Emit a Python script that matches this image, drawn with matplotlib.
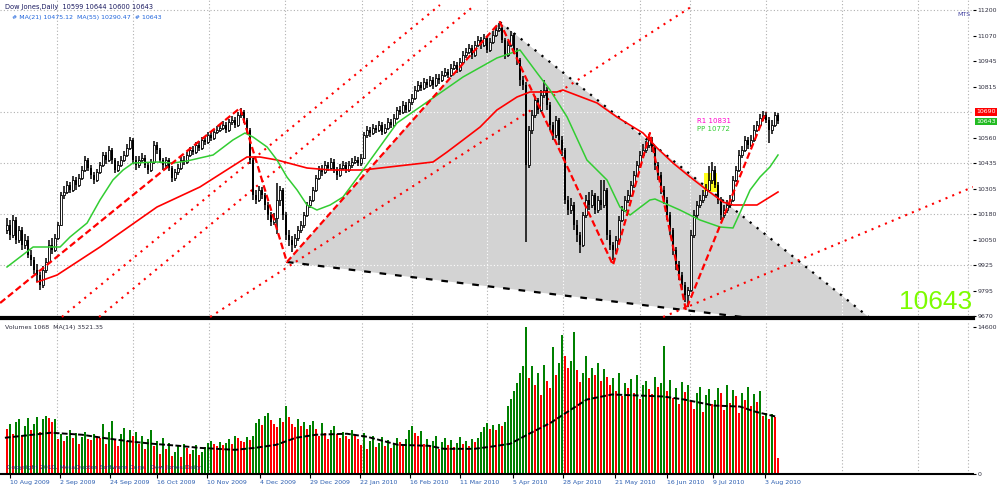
import matplotlib
matplotlib.use("Agg")
import matplotlib.pyplot as plt
import matplotlib.transforms as mtransforms
from matplotlib.patches import Polygon
import numpy as np

# daily bars (Dow Jones)
first_open = 10100
close = [10125, 10075, 10150, 10050, 10100, 10025, 10050, 9975, 9950, 9900,
         9875, 9825, 9900, 9940, 10025, 10000, 10060, 10125, 10275, 10290,
         10325, 10300, 10350, 10325, 10360, 10400, 10450, 10410, 10375, 10350,
         10390, 10425, 10475, 10450, 10500, 10450, 10400, 10425, 10450, 10475,
         10510, 10550, 10450, 10425, 10450, 10460, 10425, 10400, 10440, 10525,
         10500, 10450, 10425, 10450, 10410, 10360, 10390, 10410, 10450, 10440,
         10475, 10500, 10490, 10525, 10510, 10550, 10540, 10575, 10560, 10590,
         10600, 10610, 10625, 10600, 10640, 10650, 10625, 10675, 10690, 10650,
         10600, 10450, 10275, 10250, 10300, 10275, 10225, 10175, 10140, 10160,
         10250, 10300, 10175, 10075, 10050, 10025, 10060, 10100, 10125, 10175,
         10225, 10250, 10300, 10360, 10400, 10390, 10425, 10410, 10440, 10400,
         10375, 10410, 10425, 10400, 10425, 10440, 10450, 10435, 10460, 10575,
         10600, 10585, 10610, 10600, 10625, 10590, 10610, 10640, 10625, 10660,
         10700, 10690, 10725, 10700, 10740, 10760, 10800, 10825, 10810, 10840,
         10825, 10850, 10825, 10860, 10850, 10875, 10890, 10875, 10910, 10925,
         10900, 10940, 10975, 10990, 11010, 10975, 11025, 11050, 11025, 11060,
         11000, 11040, 11075, 11100, 11110, 11050, 10975, 11025, 11075, 11000,
         10950, 10850, 10825, 10425, 10600, 10675, 10750, 10700, 10775, 10800,
         10725, 10625, 10575, 10650, 10550, 10500, 10250, 10200, 10225, 10125,
         10075, 10025, 10175, 10250, 10225, 10275, 10200, 10250, 10225, 10300,
         10075, 10025, 10000, 10050, 10150, 10200, 10250, 10275, 10325, 10375,
         10425, 10475, 10500, 10525, 10550, 10510, 10425, 10375, 10300, 10250,
         10175, 10100, 10000, 9925, 9875, 9825, 9775, 9800, 10075, 10175,
         10225, 10250, 10275, 10300, 10350, 10400, 10325, 10250, 10175, 10200,
         10225, 10250, 10350, 10400, 10475, 10500, 10550, 10525, 10550, 10600,
         10625, 10660, 10675, 10650, 10600, 10625, 10675, 10643]
high = [10160, 10150, 10175, 10165, 10120, 10115, 10080, 10070, 10000, 9965,
        9930, 9890, 9920, 9960, 10050, 10060, 10080, 10140, 10290, 10320,
        10345, 10340, 10370, 10365, 10380, 10420, 10470, 10460, 10425, 10390,
        10405, 10440, 10490, 10490, 10520, 10510, 10460, 10445, 10470, 10495,
        10530, 10565, 10560, 10470, 10470, 10485, 10475, 10440, 10455, 10545,
        10540, 10510, 10460, 10465, 10460, 10420, 10405, 10430, 10465, 10470,
        10490, 10515, 10520, 10540, 10545, 10565, 10570, 10590, 10595, 10605,
        10620, 10630, 10645, 10640, 10655, 10670, 10665, 10690, 10710, 10700,
        10660, 10610, 10460, 10300, 10320, 10315, 10285, 10240, 10190, 10185,
        10335, 10320, 10310, 10190, 10100, 10070, 10080, 10120, 10145, 10190,
        10240, 10270, 10315, 10375, 10420, 10425, 10445, 10440, 10460, 10455,
        10415, 10430, 10445, 10440, 10445, 10460, 10470, 10465, 10480, 10590,
        10620, 10615, 10630, 10625, 10645, 10640, 10630, 10660, 10655, 10680,
        10715, 10720, 10745, 10740, 10755, 10780, 10820, 10845, 10840, 10860,
        10855, 10870, 10865, 10880, 10880, 10895, 10910, 10905, 10930, 10945,
        10940, 10960, 10995, 11010, 11030, 11025, 11045, 11070, 11065, 11080,
        11070, 11060, 11095, 11120, 11135, 11125, 11060, 11045, 11095, 11085,
        11010, 10960, 10870, 10840, 10620, 10700, 10770, 10760, 10800, 10850,
        10815, 10740, 10640, 10670, 10660, 10570, 10510, 10270, 10260, 10240,
        10150, 10090, 10190, 10275, 10290, 10300, 10285, 10270, 10350, 10350,
        10310, 10100, 10040, 10070, 10170, 10220, 10270, 10300, 10345, 10395,
        10445, 10495, 10530, 10545, 10580, 10565, 10520, 10440, 10390, 10320,
        10265, 10190, 10110, 10015, 9945, 9890, 9840, 9815, 10100, 10200,
        10245, 10275, 10300, 10330, 10420, 10440, 10420, 10340, 10265, 10225,
        10250, 10275, 10370, 10420, 10500, 10520, 10570, 10565, 10575, 10625,
        10645, 10680, 10695, 10690, 10665, 10650, 10690, 10685]
low = [10080, 10050, 10060, 10030, 10035, 10000, 10005, 9960, 9920, 9880,
       9840, 9800, 9810, 9885, 9930, 9980, 9990, 10050, 10120, 10255,
       10280, 10285, 10290, 10300, 10315, 10350, 10390, 10395, 10355, 10330,
       10340, 10380, 10415, 10430, 10440, 10430, 10385, 10390, 10415, 10440,
       10465, 10500, 10430, 10400, 10410, 10435, 10410, 10380, 10390, 10430,
       10480, 10435, 10400, 10410, 10395, 10340, 10345, 10375, 10400, 10425,
       10430, 10465, 10475, 10480, 10495, 10500, 10525, 10530, 10545, 10550,
       10580, 10590, 10600, 10585, 10590, 10625, 10610, 10615, 10660, 10635,
       10580, 10430, 10250, 10230, 10240, 10255, 10200, 10150, 10120, 10125,
       10080, 10220, 10150, 10050, 10020, 9990, 10010, 10045, 10085, 10110,
       10165, 10210, 10240, 10290, 10350, 10370, 10380, 10395, 10400, 10385,
       10350, 10365, 10400, 10385, 10390, 10410, 10430, 10420, 10420, 10455,
       10560, 10565, 10575, 10585, 10590, 10575, 10580, 10600, 10610, 10615,
       10650, 10675, 10680, 10685, 10690, 10725, 10750, 10790, 10795, 10800,
       10810, 10815, 10805, 10815, 10830, 10840, 10865, 10860, 10865, 10900,
       10885, 10890, 10930, 10960, 10980, 10955, 10965, 11015, 11005, 11015,
       10985, 10990, 11030, 11065, 11090, 11035, 10955, 10965, 11015, 10980,
       10925, 10820, 10800, 10040, 10410, 10580, 10660, 10680, 10690, 10760,
       10700, 10600, 10550, 10560, 10525, 10470, 10230, 10175, 10180, 10100,
       10040, 9985, 10015, 10160, 10200, 10210, 10180, 10185, 10200, 10210,
       10050, 10000, 9950, 9980, 10040, 10140, 10190, 10235, 10265, 10310,
       10365, 10410, 10460, 10485, 10510, 10490, 10400, 10350, 10280, 10230,
       10150, 10075, 9975, 9900, 9850, 9800, 9740, 9715, 9790, 10060,
       10160, 10210, 10235, 10260, 10290, 10330, 10310, 10230, 10150, 10160,
       10185, 10210, 10240, 10340, 10390, 10460, 10490, 10505, 10515, 10540,
       10590, 10615, 10645, 10635, 10535, 10580, 10615, 10630]
volume = [45, 50, 40, 52, 55, 38, 48, 56, 44, 50, 57, 42, 55, 58, 56, 52,
          55, 35, 40, 33, 38, 44, 36, 41, 30, 37, 42, 35, 34, 40, 38, 36,
          50, 30, 42, 53, 35, 28, 40, 46, 33, 44, 38,
          42, 30, 38, 25, 35, 44, 28, 33, 20, 36,
          25, 31, 18, 22, 28, 17, 30, 26, 20, 24, 29, 19, 22, 27,
          31, 33, 30, 28, 32, 29,
          31, 35, 30, 38, 36, 33, 32, 37, 34, 38,
          51, 55, 49, 58, 61, 54, 50, 47, 56, 52, 68,
          57, 50, 47, 55, 48, 52, 45, 49, 53,
          45, 38, 51, 41, 35, 44, 48, 40, 36, 42, 38, 35, 44, 39,
          35, 29, 41, 25, 33, 38, 27, 31, 37, 28, 34, 26, 30, 36, 32, 29, 35,
          44, 48, 41, 38, 43,
          30, 35, 28, 33, 38, 25, 32, 36, 29, 34, 27, 31, 37, 30, 33, 28, 35, 32, 36,
          42, 47, 51, 45, 49, 44, 50, 48, 52,
          68, 75, 82, 90, 100, 107,
          146,
          95, 107, 88, 100, 78, 108, 92, 85, 126, 98, 110,
          138, 117, 105, 112, 141, 103,
          91, 100, 117, 95, 105, 98, 110, 92, 104, 96,
          88, 95, 82, 100, 77, 90, 85, 94, 80, 98, 75, 88, 92, 84, 79, 96, 86, 90, 127, 82, 93,
          76, 85, 70, 91, 81, 88, 73, 65, 80, 86, 62, 78, 84, 70, 74,
          85, 80, 64, 88, 71, 83, 77, 61, 80, 74, 86, 68, 79, 72, 82,
          58, 61, 55, 60, 57,
          16]

# indicator lines (bar index, price)
ma_fast_bar = [0, 8.7, 12, 17.7, 21, 26.7, 31, 35.3, 38.7, 42, 50, 55.3, 60, 64.3, 68.7,
               75.3, 79.3, 82, 86.7, 90, 93.3, 96.7, 100, 103.3, 107.7, 112, 118.7, 130,
               141, 152, 163.3, 171, 176.7, 181, 186.7, 193.3, 200, 204.3, 207.7, 214.3,
               216, 224.3, 231, 237.7, 242, 244.3, 247.7, 251, 254.3, 257]
ma_fast_val = [9915, 10015, 10015, 10015, 10065, 10135, 10250, 10350, 10400, 10435, 10440,
               10435, 10445, 10460, 10475, 10550, 10585, 10565, 10515, 10450, 10365, 10300,
               10225, 10200, 10225, 10265, 10400, 10635, 10750, 10865, 10960, 11000, 10885,
               10800, 10665, 10450, 10350, 10215, 10175, 10250, 10255, 10200, 10150, 10115,
               10110, 10185, 10300, 10365, 10415, 10475]
ma_slow_bar = [10, 12, 16.7, 31, 50, 64.3, 80, 84.3, 90, 100, 107.7, 118.7, 142, 146.7, 152,
               157.7, 163.3, 170, 174.3, 183.3, 185.3, 196.7, 203.3, 212, 216.7, 222, 227.7,
               233.3, 238.7, 242, 250, 257]
ma_slow_val = [9840, 9850, 9875, 10015, 10215, 10315, 10465, 10465, 10450, 10410, 10400,
               10400, 10440, 10490, 10550, 10615, 10700, 10765, 10790, 10790, 10800, 10735,
               10665, 10585, 10510, 10435, 10365, 10300, 10240, 10225, 10225, 10290]
zigzag_bar = [-2.3, 77.7, 93.3, 164.3, 202, 214.3, 226.3, 253]
zigzag_val = [9735, 10710, 9940, 11140, 9925, 10585, 9700, 10690]
triangle_bar = [93.3, 164.3, 294.7]
triangle_val = [9940, 11140, 9575]
trend_lines = [((18.3, 9665), (144.3, 11225)),
               ((30.7, 9665), (156.0, 11225)),
               ((67.7, 9665), (229.0, 11225)),
               ((218.7, 9665), (322.0, 10315))]
vol_ma_bar = [-0.7, 14.7, 25, 31.7, 42, 48.7, 57.3, 64, 76, 82.7, 89.7, 96.3, 103, 113.3,
              120, 130.3, 140.7, 145.7, 155.7, 161, 167.7, 174.7, 181.3, 188, 193.3, 201.7,
              210.3, 218.7, 225.7, 235.7, 244.3, 249.3, 256.3]
vol_ma_val = [36, 41, 39, 36, 32, 30, 28, 26, 24, 26, 29, 36, 39, 40, 37, 29, 28, 25, 25,
              27, 30, 41, 51, 64, 74, 79, 78, 77, 74, 68, 67, 62, 57]

price_ticks = [11200, 11070, 10945, 10815, 10560, 10435, 10305, 10180, 10050, 9925, 9795, 9670]
grid_prices = [11200, 10690, 10435, 10180, 9925]
grid_bars = [16.7, 42, 67.3, 92.7, 118.3, 135, 160, 185.3, 211, 227.7, 253, 278.3, 303.7, 320.3]
date_bars = [1, 17.7, 34.3, 50, 66.7, 84.3, 101, 117.7, 134.3, 151, 168.7, 185.3, 202.7, 220, 235.3, 252.7]
date_labels = ["10 Aug 2009", "2 Sep 2009", "24 Sep 2009", "16 Oct 2009", "10 Nov 2009",
               "4 Dec 2009", "29 Dec 2009", "22 Jan 2010", "16 Feb 2010", "11 Mar 2010",
               "5 Apr 2010", "28 Apr 2010", "21 May 2010", "16 Jun 2010", "9 Jul 2010", "3 Aug 2010"]

W, H = 997, 486
fig = plt.figure(figsize=(W / 100, H / 100), dpi=100)
fig.patch.set_facecolor("white")
ax = fig.add_axes([0, 1 - 318 / H, 973 / W, 318 / H])
axv = fig.add_axes([0, 12 / H, 973 / W, 153 / H])

xlim = (-7 / 3, 322)
ax.set_xlim(*xlim)
ax.set_ylim(9660, 11250)
axv.set_xlim(*xlim)
axv.set_ylim(0, 152)

x = np.arange(len(close))
c = np.array(close, dtype=float)
o = np.array([first_open] + close[:-1], dtype=float)
up = c >= o

# grey triangle
tri = Polygon(list(zip(triangle_bar, triangle_val)), closed=True, fc="#d3d3d3", ec="none", zorder=1)
ax.add_patch(tri)
ax.plot([triangle_bar[1], triangle_bar[2]], [triangle_val[1], triangle_val[2]],
        color="black", ls=(0, (1, 3)), lw=1.6, zorder=2)
ax.plot([triangle_bar[0], triangle_bar[2]], [triangle_val[0], triangle_val[2]],
        color="black", ls=(0, (3, 4)), lw=1.6, zorder=2)

# grid: grey on white, white on the grey triangle
for g in grid_bars:
    for a in (ax, axv):
        a.axvline(g, color="#b0b0b0", ls=(0, (1, 2)), lw=0.8, zorder=0.5)
    ln = ax.axvline(g, color="white", ls=(0, (1, 2)), lw=0.8, zorder=1.5)
    ln.set_clip_path(tri)
for p in grid_prices:
    ax.axhline(p, color="#b0b0b0", ls=(0, (1, 2)), lw=0.8, zorder=0.5)
    ln = ax.axhline(p, color="white", ls=(0, (1, 2)), lw=0.8, zorder=1.5)
    ln.set_clip_path(tri)

# trend lines
for (x0, y0), (x1, y1) in trend_lines:
    ax.plot([x0, x1], [y0, y1], color="red", ls=(0, (1, 2.5)), lw=1.5, zorder=3)

# candles
ax.vlines(x, low, high, color="black", lw=1.1, zorder=5)
ax.bar(x[~up], (o - c)[~up], bottom=c[~up], width=0.8, color="black", lw=0, zorder=6)
ax.bar(x[up], (c - o)[up], bottom=o[up], width=0.8, color="white", edgecolor="black", lw=0.6, zorder=6)

# highlight
ax.fill_between([232.3, 236.7], 10290, 10385, color="#ffff00", alpha=0.9, zorder=4, lw=0)

# indicators
ax.plot(ma_slow_bar, ma_slow_val, color="red", lw=1.2, zorder=7)
ax.plot(ma_fast_bar, ma_fast_val, color="#32cd32", lw=1.1, zorder=7)
ax.plot(zigzag_bar, zigzag_val, color="red", lw=1.6, ls=(0, (3, 1.5)), zorder=8)

for s in ["top", "left", "right"]:
    ax.spines[s].set_visible(False)
ax.spines["bottom"].set_linewidth(3)
ax.spines["bottom"].set_color("black")
ax.set_xticks([])
ax.yaxis.tick_right()
ax.set_yticks(price_ticks)
ax.set_yticklabels([str(t) for t in price_ticks])
ax.tick_params(axis="y", length=2, width=0.8, labelsize=4.5, pad=1, labelcolor="#303040")

blend = mtransforms.blended_transform_factory(ax.transAxes, ax.transData)
ax.text(1.003, 10690, "10690", transform=blend, fontsize=4.5, color="white", va="center",
        ha="left", bbox=dict(fc="red", ec="none", pad=0.8))
ax.text(1.003, 10643, "10643", transform=blend, fontsize=4.5, color="white", va="center",
        ha="left", bbox=dict(fc="#22bb22", ec="none", pad=0.8))

# volumes
v = np.array(volume, dtype=float)
prev = np.concatenate([[v[0]], v[:-1]])
vcol = np.where(v > prev, "#008000", "#ff0000")
axv.bar(x, v, width=0.75, color=vcol, lw=0, zorder=2)
axv.plot(vol_ma_bar, vol_ma_val, color="black", lw=1.4, ls=(0, (3, 1.2)), zorder=3)
for s in ["top", "left", "right"]:
    axv.spines[s].set_visible(False)
axv.spines["bottom"].set_linewidth(1.5)
axv.yaxis.tick_right()
axv.set_yticks([0, 146])
axv.set_yticklabels(["0", "14600"])
axv.tick_params(axis="y", length=2, labelsize=4.5, pad=1, labelcolor="#303040")
axv.set_xticks(date_bars)
axv.set_xticklabels(date_labels)
axv.tick_params(axis="x", length=3, labelsize=4.5, pad=1, labelcolor="#2a5db0")
for lbl in axv.get_xticklabels():
    lbl.set_ha("left")

# texts
fig.text(5 / W, 1 - 7 / H, "Dow Jones,Daily  10599 10644 10600 10643", fontsize=4.8,
         color="#1a1a60", va="center")
fig.text(12 / W, 1 - 17 / H, "# MA(21) 10475.12  MA(55) 10290.47  # 10643", fontsize=4.5,
         color="#1e64dc", va="center")
fig.text(957 / W, 1 - 14 / H, "MTS", fontsize=4.5, color="#4040a0", va="center")
fig.text(697 / W, 1 - 121 / H, "R1 10831", fontsize=5, color="#ff00cc", va="center")
fig.text(697 / W, 1 - 129 / H, "PP 10772", fontsize=5, color="#33cc33", va="center")
fig.text(972 / W, 1 - 309 / H, "10643", fontsize=19, color="#7cfc00", ha="right",
         va="baseline", family="Liberation Sans")
fig.text(5 / W, 1 - 327 / H, "Volumes 1068  MA(14) 3521.35", fontsize=4.5, color="#303040",
         va="center")
fig.text(7 / W, 1 - 468 / H, "Copyright 2010, MetaQuotes Software Corp.  Dow Jones Daily",
         fontsize=4.5, color="#1a2a80", va="center")

fig.savefig("out.png", dpi=100)
